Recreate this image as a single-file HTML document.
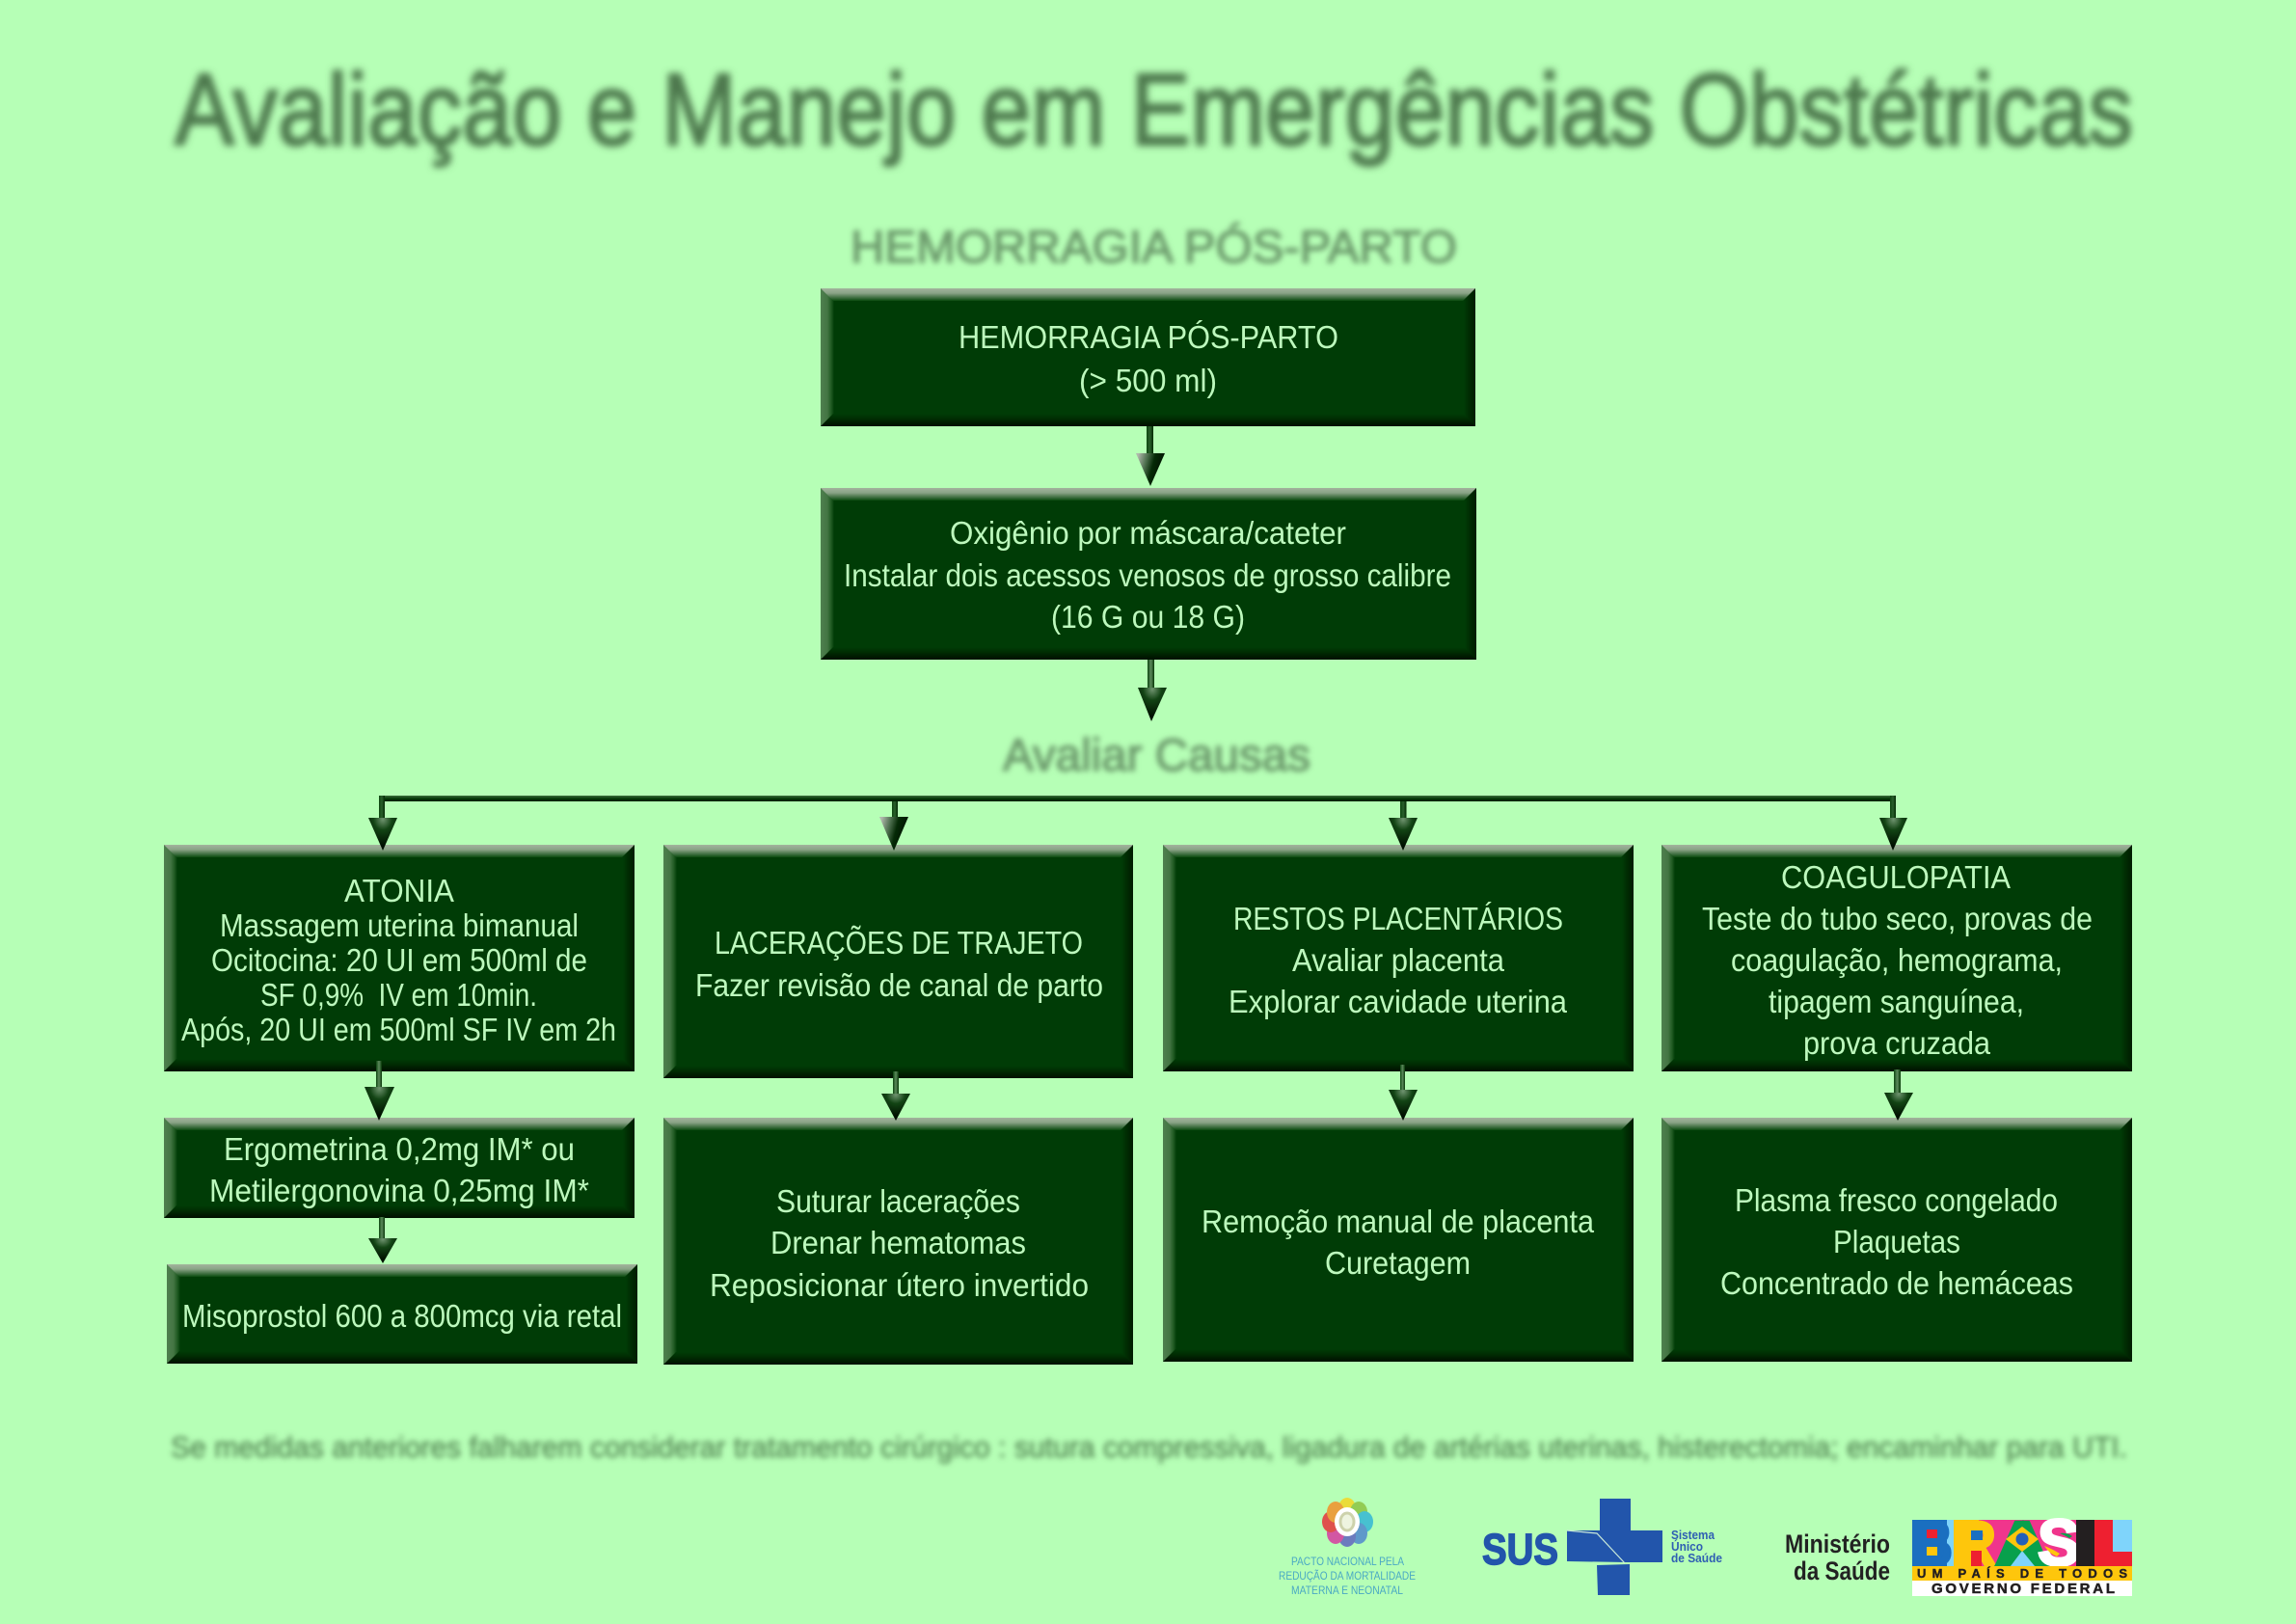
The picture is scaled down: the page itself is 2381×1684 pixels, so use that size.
<!DOCTYPE html>
<html lang="pt">
<head>
<meta charset="utf-8">
<title>Avaliação e Manejo em Emergências Obstétricas</title>
<style>
html,body{margin:0;padding:0;background:#b6ffb6;}
#p{position:relative;width:2381px;height:1684px;overflow:hidden;background:#b6ffb6;}
.b{position:absolute;background:
 linear-gradient(90deg,#4f804f 0,#437543 7px,#1f5a22 11px,#003c06 14px) left/14px 100% no-repeat,
 linear-gradient(270deg,#001c00 0,#002a02 6px,#003c06 12px) right/14px 100% no-repeat,
 #003c06;}
.b:before,.b:after{content:"";position:absolute;left:0;right:0;height:13px;}
.b:before{top:0;background:linear-gradient(180deg,#a3b39d 0,#8aa386 5px,#3a6b3c 10px,#0a4a0e 13px);clip-path:polygon(0 0,100% 0,calc(100% - 13px) 100%,13px 100%);}
.b:after{bottom:0;background:linear-gradient(180deg,#003c06 0,#002a02 6px,#000f00 13px);clip-path:polygon(13px 0,calc(100% - 13px) 0,100% 100%,0 100%);}
svg{position:absolute;left:0;top:0;}
text{font-family:"Liberation Sans",sans-serif;}
.t text{font-size:33px;fill:#bdf9bd;}
</style>
</head>
<body>
<div id="p">
<div class="b" style="left:851px;top:299px;width:679px;height:143px"></div>
<div class="b" style="left:851px;top:506px;width:680px;height:178px"></div>
<div class="b" style="left:170px;top:876px;width:488px;height:235px"></div>
<div class="b" style="left:688px;top:876px;width:487px;height:242px"></div>
<div class="b" style="left:1206px;top:876px;width:488px;height:235px"></div>
<div class="b" style="left:1723px;top:876px;width:488px;height:235px"></div>
<div class="b" style="left:170px;top:1159px;width:488px;height:104px"></div>
<div class="b" style="left:173px;top:1311px;width:488px;height:103px"></div>
<div class="b" style="left:688px;top:1159px;width:487px;height:256px"></div>
<div class="b" style="left:1206px;top:1159px;width:488px;height:253px"></div>
<div class="b" style="left:1723px;top:1159px;width:488px;height:253px"></div>

<svg width="2381" height="1684" viewBox="0 0 2381 1684" xmlns="http://www.w3.org/2000/svg">
<defs>
<filter id="b1" x="-5%" y="-30%" width="110%" height="160%"><feGaussianBlur stdDeviation="3.6"/></filter>
<filter id="b2" x="-5%" y="-50%" width="110%" height="200%"><feGaussianBlur stdDeviation="3"/></filter>
<filter id="b3" x="-5%" y="-100%" width="110%" height="300%"><feGaussianBlur stdDeviation="2.8"/></filter>
<linearGradient id="ha" x1="0" y1="0.3" x2="1" y2="0.6"><stop offset="0" stop-color="#b0b8ac"/><stop offset=".3" stop-color="#4f7050"/><stop offset=".55" stop-color="#052a06"/><stop offset="1" stop-color="#000a00"/></linearGradient>
<radialGradient id="hb" cx=".5" cy=".05" r=".8"><stop offset="0" stop-color="#6f936f"/><stop offset=".4" stop-color="#124414"/><stop offset="1" stop-color="#000f00"/></radialGradient>
<linearGradient id="s" x1="0" x2="1" y1="0" y2="0"><stop offset="0" stop-color="#0d4610"/><stop offset=".5" stop-color="#5d8a5d"/><stop offset="1" stop-color="#063606"/></linearGradient>
<linearGradient id="s2" x1="0" x2="1" y1="0" y2="0"><stop offset="0" stop-color="#0d4610"/><stop offset=".5" stop-color="#2a5f2c"/><stop offset="1" stop-color="#012a02"/></linearGradient>
<linearGradient id="bar" x1="0" x2="0" y1="0" y2="1"><stop offset="0" stop-color="#3c6e3c"/><stop offset=".5" stop-color="#063c08"/><stop offset="1" stop-color="#001a00"/></linearGradient>
</defs>

<!-- connectors -->
<g>
<rect x="393" y="825" width="1573" height="6" fill="url(#bar)"/>
<rect x="393" y="825" width="6" height="24" fill="url(#s2)"/>
<polygon points="382,848 412,848 397,882" fill="url(#hb)"/>
<rect x="925" y="831" width="6" height="17" fill="url(#s2)"/>
<polygon points="912,847 942,847 927,882" fill="url(#ha)"/>
<rect x="1452" y="831" width="6.500" height="18" fill="url(#s2)"/>
<polygon points="1440,848 1470,848 1455,882" fill="url(#hb)"/>
<rect x="1960" y="825" width="6" height="24" fill="url(#s2)"/>
<polygon points="1949,848 1978,848 1963,882" fill="url(#hb)"/>

<rect x="1189" y="442" width="7" height="29" fill="url(#s2)"/>
<polygon points="1178,470 1208,470 1193,504" fill="url(#ha)"/>
<rect x="1190" y="684" width="7" height="30" fill="url(#s)"/>
<polygon points="1180,713 1210,713 1194,748" fill="url(#hb)"/>

<rect x="390" y="1100" width="6" height="28" fill="url(#s)"/>
<polygon points="378,1127 409,1127 393,1162" fill="url(#hb)"/>
<rect x="393" y="1262" width="6" height="23" fill="url(#s)"/>
<polygon points="382,1284 412,1284 397,1310" fill="url(#hb)"/>
<rect x="926" y="1111" width="6" height="24" fill="url(#s)"/>
<polygon points="914,1134 944,1134 929,1162" fill="url(#hb)"/>
<rect x="1452" y="1104" width="5" height="27" fill="url(#s)"/>
<polygon points="1440,1130 1470,1130 1455,1162" fill="url(#hb)"/>
<rect x="1964" y="1109" width="7" height="25" fill="url(#s)"/>
<polygon points="1954,1133 1984,1133 1968,1162" fill="url(#hb)"/>
</g>

<!-- blurred headings -->
<text x="181" y="150" font-size="106" fill="#4d784d" stroke="#4d784d" stroke-width="2.500" textLength="2031" lengthAdjust="spacingAndGlyphs" filter="url(#b1)">Avaliação e Manejo em Emergências Obstétricas</text>
<text x="882" y="272" font-size="47" fill="#6d9b6d" stroke="#6d9b6d" stroke-width="1.500" textLength="629" lengthAdjust="spacingAndGlyphs" filter="url(#b2)">HEMORRAGIA PÓS-PARTO</text>
<text x="1040" y="799" font-size="47" fill="#6d9b6d" stroke="#6d9b6d" stroke-width="1.500" textLength="319" lengthAdjust="spacingAndGlyphs" filter="url(#b2)">Avaliar Causas</text>
<text x="177" y="1511" font-size="31" fill="#5a8c5a" stroke="#5a8c5a" stroke-width=".6" textLength="2029" lengthAdjust="spacingAndGlyphs" filter="url(#b3)">Se medidas anteriores falharem considerar tratamento cirúrgico : sutura compressiva, ligadura de artérias uterinas, histerectomia; encaminhar para UTI.</text>

<!-- box labels -->
<g class="t">
<text x="994" y="361" textLength="394" lengthAdjust="spacingAndGlyphs">HEMORRAGIA PÓS-PARTO</text>
<text x="1119" y="406" textLength="143" lengthAdjust="spacingAndGlyphs">(&gt; 500 ml)</text>
<text x="985" y="564" textLength="411" lengthAdjust="spacingAndGlyphs">Oxigênio por máscara/cateter</text>
<text x="875" y="608" textLength="630" lengthAdjust="spacingAndGlyphs">Instalar dois acessos venosos de grosso calibre</text>
<text x="1090" y="651" textLength="201" lengthAdjust="spacingAndGlyphs">(16 G ou 18 G)</text>

<text x="357" y="935" textLength="114" lengthAdjust="spacingAndGlyphs">ATONIA</text>
<text x="228" y="971" textLength="372" lengthAdjust="spacingAndGlyphs">Massagem uterina bimanual</text>
<text x="219" y="1007" textLength="390" lengthAdjust="spacingAndGlyphs">Ocitocina: 20 UI em 500ml de</text>
<text x="270" y="1043" textLength="287" lengthAdjust="spacingAndGlyphs" xml:space="preserve">SF 0,9%  IV em 10min.</text>
<text x="188" y="1079" textLength="451" lengthAdjust="spacingAndGlyphs">Após, 20 UI em 500ml SF IV em 2h</text>

<text x="232" y="1203" textLength="364" lengthAdjust="spacingAndGlyphs">Ergometrina 0,2mg IM* ou</text>
<text x="217" y="1246" textLength="394" lengthAdjust="spacingAndGlyphs">Metilergonovina 0,25mg IM*</text>
<text x="189" y="1376" textLength="456" lengthAdjust="spacingAndGlyphs">Misoprostol 600 a 800mcg via retal</text>

<text x="741" y="989" textLength="382" lengthAdjust="spacingAndGlyphs">LACERAÇÕES DE TRAJETO</text>
<text x="721" y="1033" textLength="423" lengthAdjust="spacingAndGlyphs">Fazer revisão de canal de parto</text>
<text x="805" y="1257" textLength="253" lengthAdjust="spacingAndGlyphs">Suturar lacerações</text>
<text x="799" y="1300" textLength="265" lengthAdjust="spacingAndGlyphs">Drenar hematomas</text>
<text x="736" y="1344" textLength="393" lengthAdjust="spacingAndGlyphs">Reposicionar útero invertido</text>

<text x="1279" y="964" textLength="342" lengthAdjust="spacingAndGlyphs">RESTOS PLACENTÁRIOS</text>
<text x="1340" y="1007" textLength="220" lengthAdjust="spacingAndGlyphs">Avaliar placenta</text>
<text x="1274" y="1050" textLength="351" lengthAdjust="spacingAndGlyphs">Explorar cavidade uterina</text>
<text x="1246" y="1278" textLength="407" lengthAdjust="spacingAndGlyphs">Remoção manual de placenta</text>
<text x="1374" y="1321" textLength="151" lengthAdjust="spacingAndGlyphs">Curetagem</text>

<text x="1847" y="921" textLength="238" lengthAdjust="spacingAndGlyphs">COAGULOPATIA</text>
<text x="1765" y="964" textLength="405" lengthAdjust="spacingAndGlyphs">Teste do tubo seco, provas de</text>
<text x="1795" y="1007" textLength="344" lengthAdjust="spacingAndGlyphs">coagulação, hemograma,</text>
<text x="1834" y="1050" textLength="265" lengthAdjust="spacingAndGlyphs">tipagem sanguínea,</text>
<text x="1870" y="1093" textLength="194" lengthAdjust="spacingAndGlyphs">prova cruzada</text>
<text x="1799" y="1256" textLength="335" lengthAdjust="spacingAndGlyphs">Plasma fresco congelado</text>
<text x="1901" y="1299" textLength="132" lengthAdjust="spacingAndGlyphs">Plaquetas</text>
<text x="1784" y="1342" textLength="366" lengthAdjust="spacingAndGlyphs">Concentrado de hemáceas</text>
</g>

<!-- Pacto logo -->
<g opacity=".82">
<ellipse cx="1397" cy="1564" rx="9" ry="11" fill="#f6d51e"/>
<ellipse cx="1409" cy="1568" rx="9" ry="11" fill="#8cc13f"/>
<ellipse cx="1415" cy="1578" rx="9" ry="11" fill="#2fb4d6"/>
<ellipse cx="1409" cy="1590" rx="9" ry="11" fill="#4c83cf"/>
<ellipse cx="1397" cy="1593" rx="9" ry="11" fill="#5c5fc0"/>
<ellipse cx="1385" cy="1590" rx="9" ry="11" fill="#d9339f"/>
<ellipse cx="1380" cy="1578" rx="9" ry="11" fill="#e82c36"/>
<ellipse cx="1385" cy="1568" rx="9" ry="11" fill="#f58c26"/>
</g>
<ellipse cx="1397" cy="1578" rx="13" ry="15" fill="#fff"/>
<ellipse cx="1397" cy="1578" rx="7" ry="9" fill="#eef4e0" stroke="#cdd2ac" stroke-width="3"/>
<g font-size="11.500" fill="#4aa9c4">
<text x="1339" y="1623" textLength="117" lengthAdjust="spacingAndGlyphs">PACTO NACIONAL PELA</text>
<text x="1326" y="1638" textLength="142" lengthAdjust="spacingAndGlyphs">REDUÇÃO DA MORTALIDADE</text>
<text x="1339" y="1653" textLength="116" lengthAdjust="spacingAndGlyphs">MATERNA E NEONATAL</text>
</g>

<!-- SUS logo -->
<text x="1537" y="1622" font-size="45" font-weight="bold" fill="#2255ab" stroke="#2255ab" stroke-width="1.500" textLength="79" lengthAdjust="spacingAndGlyphs">SUS</text>
<rect x="1659" y="1554" width="32" height="33" fill="#2255ab"/>
<polygon points="1625,1587 1724,1587 1724,1620 1686,1620 1625,1619" fill="#2255ab"/>
<polygon points="1656,1623 1690,1622 1690,1654 1657,1654" fill="#2255ab"/>
<polyline points="1625,1587 1656,1590 1685,1621" fill="none" stroke="#c9e9d9" stroke-width="1.200"/>
<g font-size="12.500" font-weight="bold" fill="#2f5fb3">
<text x="1733" y="1596" textLength="45" lengthAdjust="spacingAndGlyphs">Sistema</text>
<text x="1733" y="1608" textLength="33" lengthAdjust="spacingAndGlyphs">Único</text>
<text x="1733" y="1620" textLength="53" lengthAdjust="spacingAndGlyphs">de Saúde</text>
</g>

<!-- Ministério -->
<g font-size="27" font-weight="bold" fill="#222">
<text x="1851" y="1610" textLength="109" lengthAdjust="spacingAndGlyphs">Ministério</text>
<text x="1860" y="1638" textLength="100" lengthAdjust="spacingAndGlyphs">da Saúde</text>
</g>

<!-- Brasil logo -->
<rect x="1983" y="1576" width="228" height="48" fill="#f0358c"/>
<rect x="2190" y="1576" width="21" height="33" fill="#7fd4fb"/>
<rect x="1983" y="1576" width="43" height="48" fill="#7fd4fb"/>
<rect x="1983" y="1576" width="36" height="48" fill="#1a6fc0"/>
<text x="1983" y="1623" font-size="66" font-weight="bold" fill="#1a6fc0" stroke="#1a6fc0" stroke-width="3" textLength="42" lengthAdjust="spacingAndGlyphs">B</text>
<rect x="1998" y="1586" width="11" height="9" fill="#ee2030"/>
<rect x="1998" y="1604" width="11" height="9" fill="#fec60c"/>
<rect x="2026" y="1576" width="26" height="48" fill="#fec60c"/>
<text x="2026" y="1623" font-size="66" font-weight="bold" fill="#fec60c" stroke="#fec60c" stroke-width="3" textLength="44" lengthAdjust="spacingAndGlyphs">R</text>
<rect x="2044" y="1587" width="12" height="10" fill="#1a6fc0"/>
<rect x="2044" y="1608" width="11" height="16" fill="#ee2030"/>
<polygon points="2098,1576 2126,1624 2068,1624" fill="#08a04c"/>
<text x="2068" y="1623" font-size="66" font-weight="bold" fill="#08a04c" stroke="#08a04c" stroke-width="2" textLength="58" lengthAdjust="spacingAndGlyphs">A</text>
<polygon points="2097,1608 2110,1624 2085,1624" fill="#7fd4fb"/>
<polygon points="2097,1583 2114,1596 2097,1609 2080,1596" fill="#fec60c"/>
<circle cx="2097" cy="1596" r="6.500" fill="#2460b8"/>
<text x="2113" y="1623" font-size="68" font-weight="bold" fill="#fff" stroke="#fff" stroke-width="3" textLength="44" lengthAdjust="spacingAndGlyphs">S</text>
<path d="M2136 1590q8 -1 13 3l-3 2q-5 -3 -10 -5z" fill="#08a04c"/>
<path d="M2120 1603q8 3 16 8l-3 3q-8 -3 -13 -11z" fill="#fec60c"/>
<rect x="2153" y="1576" width="19" height="48" fill="#231f20"/>
<rect x="2172" y="1576" width="19" height="48" fill="#ee2030"/>
<rect x="2172" y="1609" width="39" height="15" fill="#ee2030"/>
<rect x="1983" y="1624" width="228" height="15" fill="#fec60c"/>
<text x="1988" y="1636" font-size="13" font-weight="bold" fill="#231f20" stroke="#231f20" stroke-width=".4" textLength="218" lengthAdjust="spacing">UM PAÍS DE TODOS</text>
<rect x="1983" y="1639" width="228" height="16" fill="#fff"/>
<text x="2003" y="1652" font-size="15" font-weight="bold" fill="#231f20" stroke="#231f20" stroke-width=".5" textLength="190" lengthAdjust="spacing">GOVERNO FEDERAL</text>
</svg>
</div>
</body>
</html>
